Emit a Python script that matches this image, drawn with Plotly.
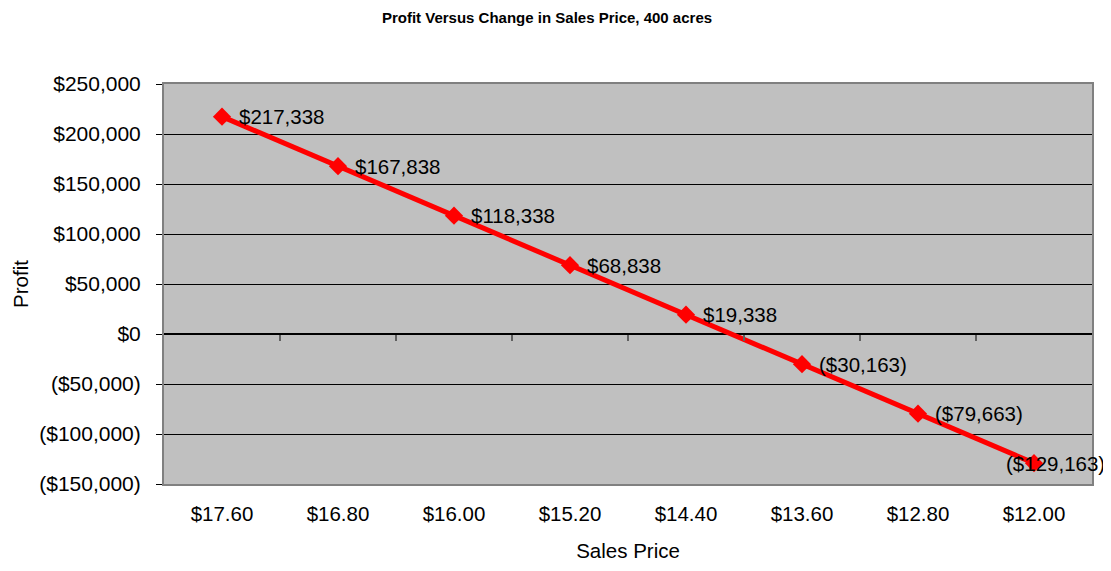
import plotly.graph_objects as go

prices = ["$17.60", "$16.80", "$16.00", "$15.20", "$14.40", "$13.60", "$12.80", "$12.00"]
profits = [217338, 167838, 118338, 68838, 19338, -30163, -79663, -129163]
labels = ["$217,338", "$167,838", "$118,338", "$68,838", "$19,338", "($30,163)", "($79,663)", "($129,163)"]
y_ticks = [250000, 200000, 150000, 100000, 50000, 0, -50000, -100000, -150000]
y_tick_text = ["$250,000", "$200,000", "$150,000", "$100,000", "$50,000", "$0",
               "($50,000)", "($100,000)", "($150,000)"]

xs = list(range(len(prices)))
font = "Liberation Sans, Arial, sans-serif"
FS = 20.5

fig = go.Figure()
fig.add_trace(go.Scatter(
    x=xs, y=profits, mode="lines+markers",
    line=dict(color="#FF0000", width=5),
    marker=dict(symbol="diamond", size=14, color="#FF0000"),
    showlegend=False, hoverinfo="skip",
))
# invisible trace to anchor the zero-line category tick axis
fig.add_trace(go.Scatter(x=xs, y=profits, xaxis="x2", mode="none", showlegend=False, hoverinfo="skip"))

annotations = []
for i, (v, t) in enumerate(zip(profits, labels)):
    last = i == len(profits) - 1
    annotations.append(dict(
        x=i, y=v, xref="x", yref="y", text=t, showarrow=False,
        xanchor="left", yanchor="middle", xshift=(-30 if last else 15),
        font=dict(family=font, size=FS, color="black"),
    ))

ymin, ymax = -150000, 250000
zero_pos = (0 - ymin) / (ymax - ymin)

W, H = 1103, 563
fig.update_layout(
    width=W, height=H,
    margin=dict(l=154, r=19, t=76, b=86),
    paper_bgcolor="white", plot_bgcolor="#C0C0C0",
    title=dict(text="<b>Profit Versus Change in Sales Price, 400 acres</b>",
               x=539 / W, xanchor="center", y=1 - 10 / H, yanchor="middle",
               font=dict(family=font, size=15, color="black")),
    xaxis=dict(
        range=[-0.5, len(prices) - 0.5], tickvals=xs, ticktext=prices,
        showgrid=False, zeroline=False, ticks="", ticklabelstandoff=10,
        showline=True, linecolor="#808080", linewidth=2, mirror=True,
        tickfont=dict(family=font, size=FS, color="black"),
        title=dict(text="Sales Price", font=dict(family=font, size=FS, color="black"), standoff=20),
    ),
    xaxis2=dict(
        overlaying="x", anchor="free", position=zero_pos, side="bottom",
        range=[-0.5, len(prices) - 0.5],
        tickvals=[i + 0.5 for i in xs[:-1]], ticks="outside", ticklen=6,
        tickcolor="#606060", tickwidth=2, showticklabels=False,
        showgrid=False, zeroline=False, showline=False,
    ),
    yaxis=dict(
        range=[ymin, ymax], tickvals=y_ticks, ticktext=y_tick_text,
        showgrid=True, gridcolor="black", gridwidth=1,
        zeroline=True, zerolinecolor="black", zerolinewidth=2,
        ticks="outside", ticklen=6, tickcolor="black", ticklabelstandoff=11,
        showline=True, linecolor="#808080", linewidth=2, mirror=True,
        tickfont=dict(family=font, size=21, color="black"),
        title=dict(text="Profit", font=dict(family=font, size=FS, color="black"), standoff=5),
    ),
    annotations=annotations,
)

fig.write_html("out.html")
